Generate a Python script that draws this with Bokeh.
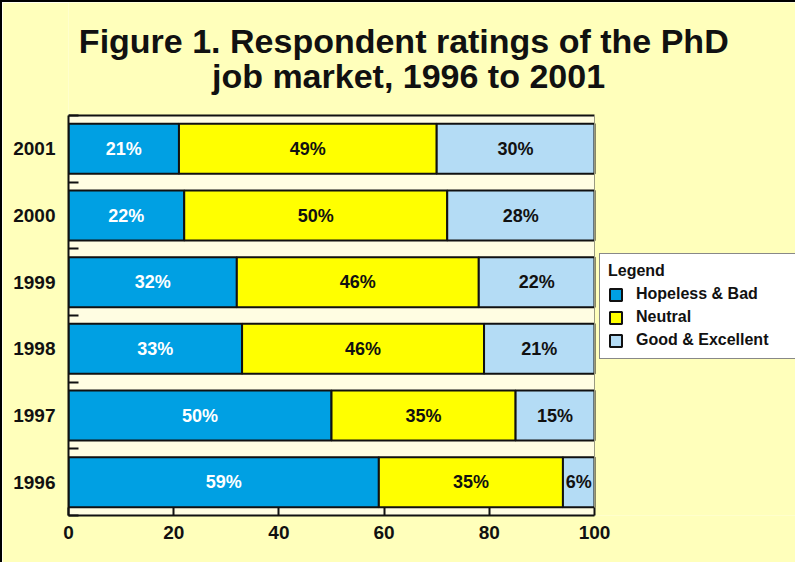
from bokeh.plotting import figure
from bokeh.models import (ColumnDataSource, FixedTicker, Legend, LegendItem, Label, BoxAnnotation)
from bokeh.core.properties import value
from bokeh.embed import file_html
from bokeh.resources import INLINE

years = ["1996", "1997", "1998", "1999", "2000", "2001"]
hopeless = [59, 50, 33, 32, 22, 21]
neutral = [35, 35, 46, 46, 50, 49]
good = [6, 15, 21, 22, 28, 30]
series_names = ["Hopeless & Bad", "Neutral", "Good & Excellent"]
x_ticks = [0, 20, 40, 60, 80, 100]
title_lines = ["Figure 1.  Respondent ratings of the PhD", "job market, 1996 to 2001"]

colors = ["#00A0E3", "#FFFF00", "#B4DCF5"]
FONT = "Liberation Sans"
INK = "#111111"

# layout: the plot area is 526x400 px; the frame extends to the canvas top/right edges
# so that the title and the legend can sit in it
PLOT_W, PLOT_H = 526, 400
FRAME_W, FRAME_H = 727, 513
x_lo, x_hi = x_ticks[0], x_ticks[-1]
n = len(years)
x_end = x_lo + (x_hi - x_lo) * FRAME_W / PLOT_W
y_end = n * FRAME_H / PLOT_H

ys = [i + 0.5 for i in range(n)]
src = ColumnDataSource(dict(
    y=ys,
    hopeless=hopeless, neutral=neutral, good=good,
    hc=[h / 2 for h in hopeless],
    nc=[h + m / 2 for h, m in zip(hopeless, neutral)],
    gc=[h + m + g / 2 for h, m, g in zip(hopeless, neutral, good)],
    ht=[f"{v}%" for v in hopeless],
    nt=[f"{v}%" for v in neutral],
    gt=[f"{v}%" for v in good],
))

p = figure(frame_width=FRAME_W, frame_height=FRAME_H, x_range=(x_lo, x_end), y_range=(0, y_end),
           output_backend="svg", toolbar_location=None,
           min_border_left=66, min_border_top=0, min_border_bottom=47,
           min_border_right=0)
p.styles = {"border-top": "2px solid black", "border-left": "2px solid black"}
p.background_fill_color = "#FFFFBB"
p.border_fill_color = "#FFFFBB"
p.outline_line_color = None
p.grid.visible = False

p.add_layout(BoxAnnotation(left=x_lo, right=x_hi, bottom=0, top=n,
                           fill_color="#FFFDE2", fill_alpha=1, line_color=None,
                           level="underlay"))

rs = p.hbar_stack(["hopeless", "neutral", "good"], y="y", height=0.75,
                  fill_color=colors, line_color=INK, line_width=2, source=src)

common = dict(y="y", text_align="center", text_baseline="middle",
              text_font_size="18px", text_font_style="bold", text_font=value(FONT), source=src)
p.text(x="hc", text="ht", text_color="white", **common)
p.text(x="nc", text="nt", text_color=INK, **common)
p.text(x="gc", text="gt", text_color=INK, **common)

# top border of the plot area and thin right border
p.segment(x0=[x_lo], x1=[x_hi], y0=[n], y1=[n], line_color=INK, line_width=2)
p.segment(x0=[x_hi], x1=[x_hi], y0=[0], y1=[n], line_color="#9a9a80", line_width=1)

# y axis
yax = p.yaxis[0]
yax.bounds = (0, n)
yax.ticker = FixedTicker(ticks=ys, minor_ticks=list(range(n + 1)))
yax.major_label_overrides = {y: t for y, t in zip(ys, years)}
yax.major_tick_in = 0
yax.major_tick_out = 0
yax.minor_tick_in = 10
yax.minor_tick_out = 0
yax.minor_tick_line_color = INK
yax.minor_tick_line_width = 2
yax.axis_line_color = INK
yax.axis_line_width = 2
yax.major_label_text_font = FONT
yax.major_label_text_font_style = "bold"
yax.major_label_text_font_size = "19px"
yax.major_label_text_color = INK
yax.major_label_standoff = 13

xax = p.xaxis[0]
xax.bounds = (x_lo, x_hi)
xax.ticker = FixedTicker(ticks=x_ticks, minor_ticks=[])
xax.major_tick_in = 8
xax.major_tick_out = 0
xax.major_tick_line_color = INK
xax.major_tick_line_width = 2
xax.axis_line_color = INK
xax.axis_line_width = 2
xax.major_label_text_font = FONT
xax.major_label_text_font_style = "bold"
xax.major_label_text_font_size = "19px"
xax.major_label_text_color = INK
xax.major_label_standoff = 10

# title (two centred lines), positioned in screen px relative to the frame
for line, base in zip(title_lines, [475, 440]):
    p.add_layout(Label(x=340, y=base, x_units="screen", y_units="screen", text=line,
                       text_align="center", text_baseline="alphabetic",
                       text_font=FONT, text_font_size="34px", text_font_style="bold",
                       text_color=INK))

legend = Legend(items=[LegendItem(label=s, renderers=[r]) for s, r in zip(series_names, rs)],
                title="Legend", location=(531, 156))
legend.title_text_font = FONT
legend.title_text_font_style = "bold"
legend.title_text_font_size = "16px"
legend.title_text_color = INK
legend.title_standoff = 4
legend.label_text_font = FONT
legend.label_text_font_style = "bold"
legend.label_text_font_size = "16px"
legend.label_text_color = INK
legend.glyph_width = 15
legend.glyph_height = 15
legend.label_height = 20
legend.label_standoff = 13
legend.label_width = 170
legend.spacing = 3
legend.padding = 8
legend.margin = 0
legend.border_line_color = INK
legend.border_line_width = 1
legend.background_fill_color = "white"
legend.background_fill_alpha = 1
p.add_layout(legend, "center")

open("out.html", "w").write(file_html(p, INLINE))
